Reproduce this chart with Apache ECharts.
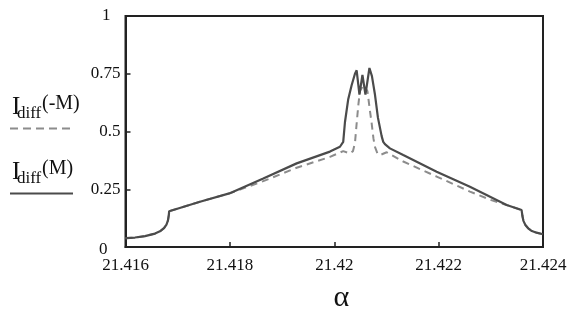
<!DOCTYPE html>
<html>
<head>
<meta charset="utf-8">
<script src="https://cdn.jsdelivr.net/npm/echarts@6/dist/echarts.min.js"></script>
<style>
  html, body { margin: 0; padding: 0; background: #fff; }
  #chart { width: 572px; height: 324px; }
</style>
</head>
<body>
<div id="chart"></div>
<script>
  // I_diff(M), solid curve
  const alphaM = [
    21.416000, 21.416182, 21.416374, 21.416565, 21.416661, 21.416738, 21.416785, 21.416814,
    21.416830, 21.416837, 21.417427, 21.417989, 21.418640, 21.419280, 21.419918, 21.420109,
    21.420172, 21.420205, 21.420268, 21.420333, 21.420397, 21.420429, 21.420483, 21.420540,
    21.420598, 21.420674, 21.420722, 21.420780, 21.420837, 21.420908, 21.420939, 21.420971,
    21.421067, 21.421322, 21.421962, 21.422600, 21.423303, 21.423590, 21.423605, 21.423625,
    21.423663, 21.423716, 21.423787, 21.423877, 21.424000
  ]
  const idiffM = [
    0.038, 0.041, 0.047, 0.058, 0.068, 0.082, 0.097, 0.115,
    0.138, 0.155, 0.196, 0.232, 0.297, 0.362, 0.413, 0.434,
    0.455, 0.540, 0.640, 0.700, 0.750, 0.765, 0.660, 0.745,
    0.660, 0.775, 0.740, 0.660, 0.560, 0.480, 0.455, 0.445,
    0.427, 0.398, 0.326, 0.261, 0.182, 0.160, 0.135, 0.113,
    0.095, 0.081, 0.069, 0.062, 0.055
  ]

  // I_diff(-M), dashed curve
  const alphaMinusM = [
    21.416000, 21.416182, 21.416374, 21.416565, 21.416661, 21.416738, 21.416785, 21.416814,
    21.416830, 21.416837, 21.417427, 21.417989, 21.418640, 21.419280, 21.419918, 21.420172,
    21.420301, 21.420358, 21.420397, 21.420435, 21.420464, 21.420492, 21.420559, 21.420636,
    21.420684, 21.420716, 21.420751, 21.420780, 21.420828, 21.420876, 21.421004, 21.421322,
    21.421962, 21.422600, 21.422983, 21.423303, 21.423590, 21.423605, 21.423625, 21.423663,
    21.423716, 21.423787, 21.423877, 21.424000
  ]
  const idiffMinusM = [
    0.038, 0.041, 0.047, 0.058, 0.068, 0.082, 0.097, 0.115,
    0.138, 0.155, 0.196, 0.232, 0.285, 0.343, 0.390, 0.415,
    0.405, 0.415, 0.450, 0.550, 0.620, 0.675, 0.700, 0.675,
    0.590, 0.537, 0.470, 0.433, 0.405, 0.398, 0.410, 0.370,
    0.305, 0.240, 0.205, 0.182, 0.160, 0.135, 0.113, 0.095,
    0.081, 0.069, 0.062, 0.055
  ]

  const serif = '"Liberation Serif", "DejaVu Serif", serif'
  const solidColor = '#4b4b4b'
  const dashColor = '#8c8c8c'

  const toPairs = (xs, ys) => xs.map((x, i) => [x, ys[i]])

  let chart = echarts.init(document.getElementById('chart'))

  // legend drawn by hand: I with subscript "diff" and the sign in brackets
  const legendBits = (top, label, lineType, color) => [
    { type: 'text', left: 12, top: top, style: { text: 'I', font: '25px ' + serif, fill: '#111' } },
    { type: 'text', left: 17, top: top + 10, style: { text: 'diff', font: '17px ' + serif, fill: '#111' } },
    { type: 'text', left: 42, top: top - 1, style: { text: label, font: '20px ' + serif, fill: '#111' } },
    {
      type: 'line',
      shape: { x1: 10, y1: top + 33.5, x2: 73, y2: top + 33.5 },
      style: { stroke: color, lineWidth: 2, lineDash: lineType }
    }
  ]

  let option = {
    backgroundColor: '#fff',
    animation: false,
    grid: {
      left: 125.5,
      right: 29,
      top: 16,
      bottom: 77,
      show: true,
      borderColor: '#222',
      borderWidth: 2
    },
    xAxis: {
      type: 'value',
      min: 21.416,
      max: 21.424,
      interval: 0.002,
      name: 'α',
      nameLocation: 'middle',
      nameGap: 36,
      nameTextStyle: { fontFamily: serif, fontSize: 30, color: '#111', padding: [0, 0, 0, 14] },
      axisLine: { lineStyle: { color: '#222', width: 2 } },
      axisTick: { inside: true, length: 5, lineStyle: { color: '#222', width: 1.5 } },
      axisLabel: {
        fontFamily: serif, fontSize: 17, color: '#111', margin: 10,
        formatter: (v) => (+v).toFixed(3).replace(/0+$/, '')
      },
      splitLine: { show: false }
    },
    yAxis: {
      type: 'value',
      min: 0,
      max: 1,
      interval: 0.25,
      axisLine: { show: true, lineStyle: { color: '#222', width: 2 } },
      axisTick: { show: true, inside: true, length: 5, lineStyle: { color: '#222', width: 1.5 } },
      axisLabel: {
        fontFamily: serif, fontSize: 17, color: '#111', margin: 5,
        formatter: (v) => {
          if (v === 0) return '{z|0}'
          if (v === 1) return '{o|1}'
          return String(v)
        },
        rich: {
          z: { fontFamily: serif, fontSize: 17, color: '#111', padding: [6, 13, 0, 0] },
          o: { fontFamily: serif, fontSize: 17, color: '#111', padding: [0, 10, 0, 0] }
        }
      },
      splitLine: { show: false }
    },
    graphic: [
      ...legendBits(95, '(-M)', [8, 5], dashColor),
      ...legendBits(160, '(M)', null, solidColor)
    ],
    series: [
      {
        name: 'Idiff(-M)',
        type: 'line',
        data: toPairs(alphaMinusM, idiffMinusM),
        showSymbol: false,
        lineStyle: { color: dashColor, width: 2, type: [7, 5] }
      },
      {
        name: 'Idiff(M)',
        type: 'line',
        data: toPairs(alphaM, idiffM),
        showSymbol: false,
        lineStyle: { color: solidColor, width: 2.2 }
      }
    ]
  }

  chart.setOption(option)
</script>
</body>
</html>
